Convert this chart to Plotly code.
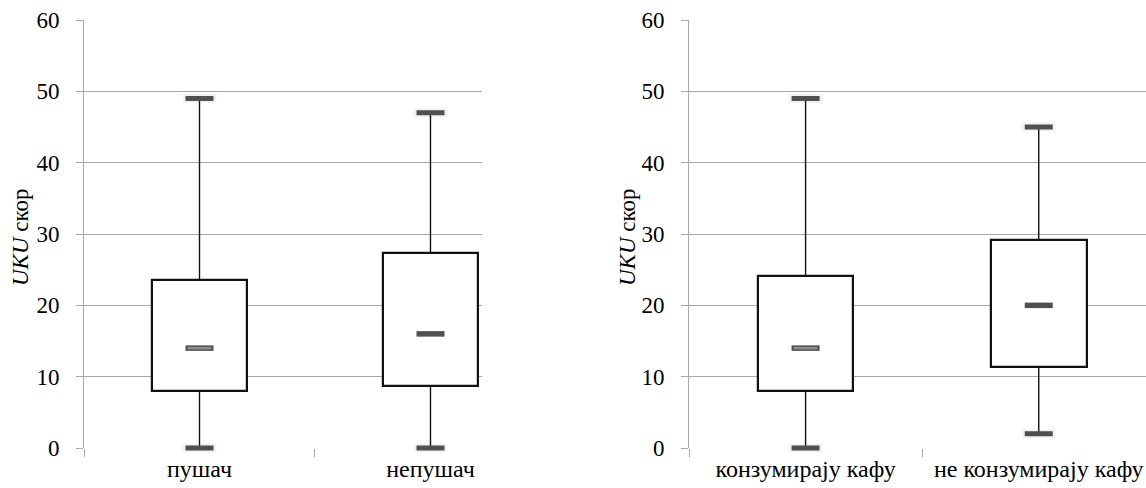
import plotly.graph_objects as go

# ---- data ----
cats_left = ["пушач", "непушач"]
min_left = [0, 0]
q1_left = [8, 8.7]
median_left = [14, 16]
q3_left = [23.5, 27.3]
max_left = [49, 47]

cats_right = ["конзумирају кафу", "не конзумирају кафу"]
min_right = [0, 2]
q1_right = [8, 11.4]
median_right = [14, 20]
q3_right = [24.1, 29.2]
max_right = [49, 45]

y_ticks = [0, 10, 20, 30, 40, 50, 60]
y_title = "<i>UKU</i> скор"

FONT = "Liberation Serif"
GRID = "#a8a8a8"
CAP = "#505050"

fig = go.Figure()


def add_panel(cats, mins, q1, med, q3, maxs, xa, ya):
    # whiskers
    wx, wy = [], []
    for c, lo, a, b, hi in zip(cats, mins, q1, q3, maxs):
        wx += [c, c, None, c, c, None]
        wy += [b, hi, None, a, lo, None]
    fig.add_trace(go.Scatter(x=wx, y=wy, mode="lines", line=dict(color="#111111", width=1.4),
                             xaxis=xa, yaxis=ya, showlegend=False, hoverinfo="skip"))
    # boxes
    fig.add_trace(go.Bar(x=cats, y=[b - a for a, b in zip(q1, q3)], base=q1, width=0.41,
                         marker=dict(color="white", line=dict(color="#111111", width=2.2)),
                         xaxis=xa, yaxis=ya, showlegend=False))
    # cap shadows
    fig.add_trace(go.Scatter(x=cats + cats, y=maxs + mins, mode="markers",
                             marker=dict(symbol="line-ew", size=24, line=dict(width=9, color="rgba(0,0,0,0.05)")),
                             xaxis=xa, yaxis=ya, showlegend=False, cliponaxis=False, hoverinfo="skip"))
    # caps
    fig.add_trace(go.Scatter(x=cats + cats, y=maxs + mins, mode="markers",
                             marker=dict(symbol="line-ew", size=20, line=dict(width=5, color=CAP)),
                             xaxis=xa, yaxis=ya, showlegend=False, cliponaxis=False))
    # medians
    fig.add_trace(go.Scatter(x=cats, y=med, mode="markers",
                             marker=dict(symbol="line-ew", size=20, line=dict(width=5.5, color=CAP)),
                             xaxis=xa, yaxis=ya, showlegend=False, cliponaxis=False))
    fig.add_trace(go.Scatter(x=cats[:1], y=med[:1], mode="markers",
                             marker=dict(symbol="line-ew", size=17, line=dict(width=2.5, color="#8f8f8f")),
                             xaxis=xa, yaxis=ya, showlegend=False, cliponaxis=False, hoverinfo="skip"))


add_panel(cats_left, min_left, q1_left, median_left, q3_left, max_left, "x", "y")
add_panel(cats_right, min_right, q1_right, median_right, q3_right, max_right, "x2", "y2")

W, H = 1146, 488
ydom = [40 / H, 468 / H]

xcommon = dict(type="category", tickson="boundaries", ticks="outside", ticklen=8, tickcolor=GRID,
               showgrid=False, showline=False, zeroline=False, automargin=False,
               ticklabelstandoff=4,
               tickfont=dict(family=FONT, size=24, color="black"))
ycommon = dict(range=[0, 60], tickvals=y_ticks, ticks="outside", ticklen=7, tickcolor=GRID,
               showgrid=True, gridcolor=GRID, gridwidth=1, showline=True, linecolor=GRID, linewidth=1,
               zeroline=False, ticklabelstandoff=12, automargin=False,
               tickfont=dict(family=FONT, size=23, color="black"))

fig.update_layout(
    width=W, height=H, margin=dict(l=0, r=0, t=0, b=0),
    paper_bgcolor="white", plot_bgcolor="white", bargap=0,
    xaxis=dict(domain=[84 / W, 482 / W], range=[-0.5, 1.223], anchor="y", **xcommon),
    yaxis=dict(domain=ydom, anchor="x", **ycommon),
    xaxis2=dict(domain=[689 / W, 1.0], range=[-0.5, 1.46], anchor="y2", **xcommon),
    yaxis2=dict(domain=ydom, anchor="x2", **ycommon),
    annotations=[
        dict(text=y_title, xref="paper", yref="paper", x=21 / W, y=1 - 237 / H, textangle=-90,
             showarrow=False, xanchor="center", yanchor="middle",
             font=dict(family=FONT, size=23, color="black")),
        dict(text=y_title, xref="paper", yref="paper", x=628 / W, y=1 - 237 / H, textangle=-90,
             showarrow=False, xanchor="center", yanchor="middle",
             font=dict(family=FONT, size=23, color="black")),
    ],
)

fig.write_html("out.html")
